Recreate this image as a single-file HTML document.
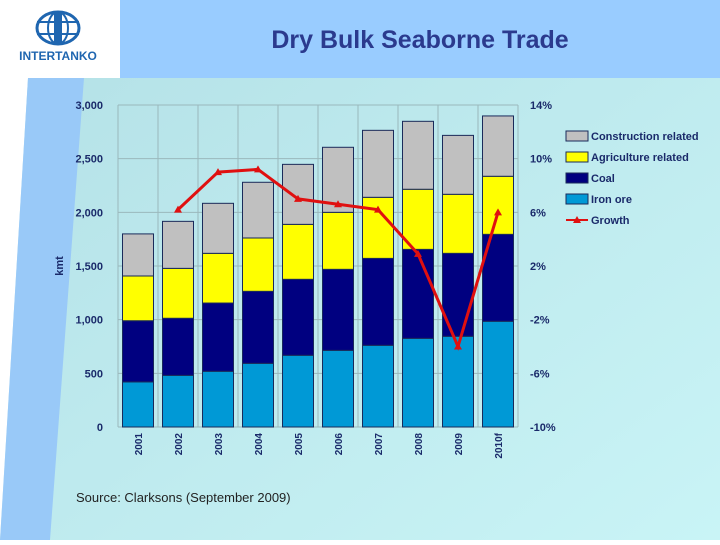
<!DOCTYPE html>
<html><head><meta charset="utf-8"><style>
body{margin:0;width:720px;height:540px;overflow:hidden;font-family:"Liberation Sans",sans-serif}
</style></head><body>
<svg width="720" height="540" xmlns="http://www.w3.org/2000/svg">
<defs>
<linearGradient id="bg" x1="0" y1="0" x2="1" y2="1"><stop offset="0" stop-color="#b3e0e6"/><stop offset="1" stop-color="#c9f4f6"/></linearGradient>
</defs>
<rect x="0" y="0" width="720" height="540" fill="url(#bg)"/>
<polygon points="0,78 28,78 0,540" fill="#ffffff"/>
<polygon points="28,78 84,78 50,540 0,540" fill="#99c9f8"/>
<rect x="120" y="0" width="600" height="78" fill="#99ccff"/>
<rect x="0" y="0" width="120" height="78" fill="#ffffff"/>
<g>
<ellipse cx="58" cy="28" rx="21" ry="16" fill="none" stroke="#1f66b0" stroke-width="3"/>
<line x1="37" y1="22" x2="79" y2="22" stroke="#1f66b0" stroke-width="2"/>
<line x1="37" y1="34" x2="79" y2="34" stroke="#1f66b0" stroke-width="2"/>
<ellipse cx="58" cy="28" rx="10" ry="16" fill="none" stroke="#1f66b0" stroke-width="2"/>
<rect x="54" y="12" width="8" height="32" fill="#1f66b0"/>
<text x="58" y="60" font-size="12" font-weight="bold" fill="#1f66b0" text-anchor="middle">INTERTANKO</text>
</g>
<text x="420" y="48" font-size="25" font-weight="bold" fill="#2b3a8e" text-anchor="middle">Dry Bulk Seaborne Trade</text>
<g id="grid"></g><g id="bars"></g><g id="line"></g><g id="axes"></g>
<text x="63" y="266" font-size="11" font-weight="bold" fill="#1a2a6a" text-anchor="middle" transform="rotate(-90 63 266)">kmt</text>
<text x="76" y="502" font-size="13" fill="#222">Source: Clarksons (September 2009)</text>
<g id="legend"></g>
</svg>
<script>
const categories=["2001","2002","2003","2004","2005","2006","2007","2008","2009","2010f"];
const ironOre=[420,481,519,593,668,714,761,826,845,985];
const coal=[570,532,636,671,708,755,810,829,773,810];
const agriculture=[417,465,463,497,512,531,569,560,550,541];
const construction=[392,438,466,519,559,606,624,633,549,562];
const growth=[null,6.2,9.0,9.2,7.0,6.6,6.2,2.9,-4.0,6.0];
const leftTicks=[0,500,1000,1500,2000,2500,3000];
const leftTickLabels=["0","500","1,000","1,500","2,000","2,500","3,000"];
const rightTicks=[-10,-6,-2,2,6,10,14];
const rightTickLabels=["-10%","-6%","-2%","2%","6%","10%","14%"];
const NS="http://www.w3.org/2000/svg";
const X0=118,X1=518,Y0=427,Y1=105;
const yL=v=>Y0-(v/3000)*(Y0-Y1);
const yR=p=>Y0-((p+10)/24)*(Y0-Y1);
const bw=(X1-X0)/categories.length;
const xC=i=>X0+bw*(i+0.5);
function mk(t,a,p){const e=document.createElementNS(NS,t);for(const k in a)e.setAttribute(k,a[k]);p.appendChild(e);return e;}
const grid=document.getElementById('grid'),bars=document.getElementById('bars'),line=document.getElementById('line'),axes=document.getElementById('axes'),legend=document.getElementById('legend');
leftTicks.forEach((v,i)=>{const l=mk('line',{x1:X0,x2:X1,y1:yL(v),y2:yL(v),stroke:'#9ab8bc','stroke-width':1},grid);


const t=mk('text',{x:103,y:yL(v)+4,'font-size':11,'font-weight':'bold',fill:'#1a2a6a','text-anchor':'end'},axes);t.textContent=leftTickLabels[i];

});
rightTicks.forEach((p,i)=>{const t=mk('text',{x:530,y:yR(p)+4,'font-size':11,'font-weight':'bold',fill:'#1a2a6a'},axes);t.textContent=rightTickLabels[i];

});
for(let i=0;i<=categories.length;i++){const l=mk('line',{x1:X0+bw*i,x2:X0+bw*i,y1:Y1,y2:Y0,stroke:'#9ab8bc','stroke-width':1},grid);

}
const series=[["iron-ore",ironOre,"#0099d6"],["coal",coal,"#000080"],["agriculture",agriculture,"#ffff00"],["construction",construction,"#c0c0c0"]];
categories.forEach((c,i)=>{let base=0;series.forEach(([n,arr,col])=>{const v=arr[i];const r=mk('rect',{x:xC(i)-15.5,y:yL(base+v),width:31,height:yL(base)-yL(base+v),fill:col,stroke:'#1a2a5a','stroke-width':1},bars);


base+=v;});
const t=mk('text',{x:0,y:0,'font-size':10,'font-weight':'bold',fill:'#1a2a6a','text-anchor':'end',transform:`translate(${xC(i)+4},433) rotate(-90)`},axes);t.textContent=c;

});
const pts=[];growth.forEach((g,i)=>{if(g!==null)pts.push([xC(i),yR(g)]);});
const pl=mk('polyline',{points:pts.map(p=>p.join(',')).join(' '),fill:'none',stroke:'#e01010','stroke-width':3},line);


pts.forEach(p=>{const m=mk('polygon',{points:`${p[0]},${p[1]-4} ${p[0]-4},${p[1]+3} ${p[0]+4},${p[1]+3}`,fill:'#e01010'},line);

});
const leg=[["Construction related","#c0c0c0"],["Agriculture related","#ffff00"],["Coal","#000080"],["Iron ore","#0099d6"]];
leg.forEach(([n,c],i)=>{const y=136+i*21;const g=mk('g',{},legend);


mk('rect',{x:566,y:y-5,width:22,height:10,fill:c,stroke:'#1a2a5a','stroke-width':1},g);
const t=mk('text',{x:591,y:y+4,'font-size':11,'font-weight':'bold',fill:'#1a2a6a'},g);t.textContent=n;});
const g=mk('g',{},legend);


mk('line',{x1:566,x2:588,y1:220,y2:220,stroke:'#e01010','stroke-width':2},g);
mk('polygon',{points:'577,216 573,223 581,223',fill:'#e01010'},g);
const t=mk('text',{x:591,y:224,'font-size':11,'font-weight':'bold',fill:'#1a2a6a'},g);t.textContent="Growth";
</script>
</body></html>
